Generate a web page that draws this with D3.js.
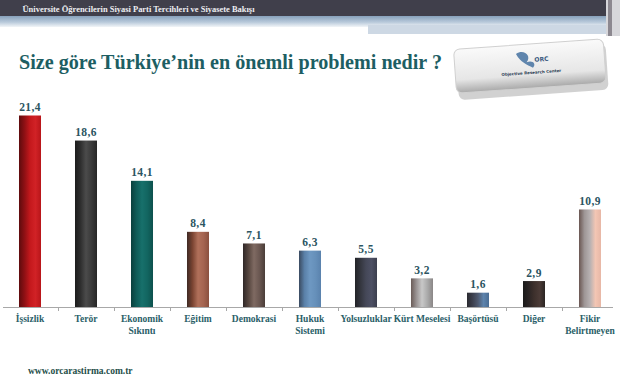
<!DOCTYPE html>
<html>
<head>
<meta charset="utf-8">
<script src="https://cdn.jsdelivr.net/npm/d3@7"></script>
<style>
  body { margin: 0; background: #fff; }
  svg { display: block; }
</style>
</head>
<body>
<div id="chart"></div>
<script>
// chart values
var categories = ["İşsizlik", "Terör", "Ekonomik\nSıkıntı", "Eğitim", "Demokrasi", "Hukuk\nSistemi",
                  "Yolsuzluklar", "Kürt Meselesi", "Başörtüsü", "Diğer", "Fikir\nBelirtmeyen"];
var values = [21.4, 18.6, 14.1, 8.4, 7.1, 6.3, 5.5, 3.2, 1.6, 2.9, 10.9];
var valueLabels = ["21,4", "18,6", "14,1", "8,4", "7,1", "6,3", "5,5", "3,2", "1,6", "2,9", "10,9"];
// stripe colours of each bar, left to right
var barStripes = [
  ["#5e0b0d", "#8e1014", "#c4181c", "#d12226", "#b81519"],
  ["#1c1c1c", "#2e2e2e", "#4b4b4b", "#3a3a3a", "#262626"],
  ["#0a3f3d", "#0f5c58", "#17706b", "#126560", "#0d514d"],
  ["#3e2a24", "#7a4432", "#b0705a", "#a56450", "#8a503e"],
  ["#2f2727", "#56463f", "#7f6a62", "#6a5751", "#4a3d38"],
  ["#3a4a60", "#5a80a8", "#6e98c2", "#6690ba", "#5a82ad"],
  ["#222327", "#34363f", "#454858", "#4d5064", "#3c3f4e"],
  ["#6a5c58", "#9a9494", "#c8c8c8", "#aaaaaa", "#8a8686"],
  ["#2a2a30", "#3c3f4d", "#4f5a70", "#5e84ad", "#4a6d94"],
  ["#1a1a1a", "#2a2424", "#3d302c", "#4a3a36", "#2b2523"],
  ["#6a5652", "#9e9696", "#b7b1b2", "#f3c6b4", "#e7b7a6"]
];
var title = "Size göre Türkiye’nin en önemli problemi nedir ?";
var header = "Üniversite Öğrencilerin Siyasi Parti Tercihleri ve Siyasete Bakışı";
var footer = "www.orcarastirma.com.tr";

var width = 620, height = 381;
var baseline = 307;

var svg = d3.select("#chart").append("svg")
  .attr("width", width)
  .attr("height", height);

var defs = svg.append("defs");

// header band
var hg = defs.append("linearGradient").attr("id", "band").attr("x1", 0).attr("y1", 0).attr("x2", 0).attr("y2", 1);
hg.append("stop").attr("offset", 0).attr("stop-color", "#7f9ab6");
hg.append("stop").attr("offset", 0.6).attr("stop-color", "#b9cadb");
hg.append("stop").attr("offset", 1).attr("stop-color", "#f2f5f8");

svg.append("rect").attr("x", 0).attr("y", 15).attr("width", 608).attr("height", 12).attr("fill", "url(#band)");
svg.append("rect").attr("x", 368).attr("y", 25).attr("width", 240).attr("height", 9).attr("fill", "#cdd8e4");
svg.append("rect").attr("x", 0).attr("y", 0).attr("width", 608).attr("height", 16).attr("fill", "#403f4b");
svg.append("rect").attr("x", 606).attr("y", 0).attr("width", 14).attr("height", 36).attr("fill", "#d7d7db");
svg.append("rect").attr("x", 608).attr("y", 0).attr("width", 4).attr("height", 36).attr("fill", "#8c8890");

svg.append("text")
  .attr("x", 22.5).attr("y", 11.5)
  .attr("font-family", "Liberation Serif, serif")
  .attr("font-weight", "bold")
  .attr("font-size", 9)
  .attr("fill", "#eeeef2")
  .attr("textLength", 232)
  .attr("lengthAdjust", "spacingAndGlyphs")
  .text(header);

// title
svg.append("text")
  .attr("x", 19).attr("y", 69)
  .attr("font-family", "Liberation Serif, serif")
  .attr("font-weight", "bold")
  .attr("font-size", 22)
  .attr("fill", "#1d5e63")
  .attr("textLength", 423)
  .attr("lengthAdjust", "spacingAndGlyphs")
  .text(title);

// logo plate
var lg = defs.append("linearGradient").attr("id", "plate").attr("x1", 0).attr("y1", 0).attr("x2", 0).attr("y2", 1);
lg.append("stop").attr("offset", 0).attr("stop-color", "#fafafa");
lg.append("stop").attr("offset", 0.7).attr("stop-color", "#e6e6e6");
lg.append("stop").attr("offset", 1).attr("stop-color", "#a9a9a9");
var logo = svg.append("g").attr("transform", "translate(531,68) rotate(-4)");
logo.append("rect").attr("x", -74).attr("y", -19).attr("width", 150).attr("height", 46).attr("rx", 6)
  .attr("fill", "#9a9a9a").attr("opacity", 0.45);
logo.append("rect").attr("x", -76).attr("y", -24).attr("width", 150).attr("height", 44).attr("rx", 6)
  .attr("fill", "url(#plate)").attr("stroke", "#d0d0d0");
logo.append("path").attr("d", "M-14,-15 C-6,-20 2,-12 -4,-6 C2,-8 6,-4 2,0 C-4,-4 -10,-6 -14,-15 Z")
  .attr("fill", "#5f85ad");
logo.append("text").attr("x", 4).attr("y", -6).attr("font-family", "DejaVu Sans, sans-serif")
  .attr("font-size", 6).attr("font-weight", "bold").attr("fill", "#3b5a80").text("ORC");
logo.append("text").attr("x", 0).attr("y", 6).attr("text-anchor", "middle").attr("font-family", "DejaVu Sans, sans-serif")
  .attr("font-size", 4).attr("font-weight", "bold").attr("fill", "#2c3e55").text("Objective Research Center");

// scales
var x = d3.scaleBand()
  .domain(categories)
  .range([2, 618])
  .paddingInner(0.607)
  .paddingOuter(0.3035);

var y = d3.scaleLinear()
  .domain([0, 21.4])
  .range([baseline, 115.5]);

// bar gradients
categories.forEach(function(c, i) {
  var g = defs.append("linearGradient").attr("id", "bar" + i)
    .attr("x1", 0).attr("y1", 0).attr("x2", 1).attr("y2", 0);
  var s = barStripes[i];
  s.forEach(function(col, k) {
    g.append("stop").attr("offset", k / (s.length - 1)).attr("stop-color", col);
  });
});

var bars = svg.append("g");
bars.selectAll("rect")
  .data(values)
  .enter().append("rect")
  .attr("x", function(d, i) { return x(categories[i]); })
  .attr("y", function(d) { return y(d); })
  .attr("width", x.bandwidth())
  .attr("height", function(d) { return baseline - y(d); })
  .attr("fill", function(d, i) { return "url(#bar" + i + ")"; });

// value labels
svg.append("g").selectAll("text")
  .data(values)
  .enter().append("text")
  .attr("x", function(d, i) { return x(categories[i]) + x.bandwidth() / 2; })
  .attr("y", function(d) { return y(d) - 4.5; })
  .attr("text-anchor", "middle")
  .attr("font-family", "Liberation Serif, serif")
  .attr("font-weight", "bold")
  .attr("font-size", 11.5)
  .attr("letter-spacing", 0.4)
  .attr("fill", "#2b5562")
  .text(function(d, i) { return valueLabels[i]; });

// x axis
var axis = svg.append("g").attr("transform", "translate(0," + baseline + ")");
axis.append("line").attr("x1", 3).attr("x2", 613).attr("y1", 0.5).attr("y2", 0.5)
  .attr("stroke", "#a8a8a8").attr("stroke-width", 1);
axis.selectAll(".tick")
  .data(categories.slice(1))
  .enter().append("line")
  .attr("class", "tick")
  .attr("x1", function(c) { return Math.round(x(c) - x.step() * x.paddingInner() / 2) + 0.5; })
  .attr("x2", function(c) { return Math.round(x(c) - x.step() * x.paddingInner() / 2) + 0.5; })
  .attr("y1", 0).attr("y2", 4)
  .attr("stroke", "#a8a8a8");

var labels = axis.selectAll(".cat")
  .data(categories)
  .enter().append("text")
  .attr("class", "cat")
  .attr("x", function(c) { return x(c) + x.bandwidth() / 2; })
  .attr("y", 15)
  .attr("text-anchor", "middle")
  .attr("font-family", "Liberation Serif, serif")
  .attr("font-weight", "bold")
  .attr("font-size", 9.5)
  .attr("fill", "#2a6068");
labels.each(function(c) {
  var t = d3.select(this);
  c.split("\n").forEach(function(line, k) {
    t.append("tspan")
      .attr("x", t.attr("x"))
      .attr("dy", k == 0 ? 0 : 12)
      .text(line);
  });
});

// footer
svg.append("text")
  .attr("x", 28).attr("y", 374)
  .attr("font-family", "Liberation Serif, serif")
  .attr("font-weight", "bold")
  .attr("font-size", 9.5)
  .attr("fill", "#1f4f4a")
  .text(footer);
</script>
</body>
</html>
